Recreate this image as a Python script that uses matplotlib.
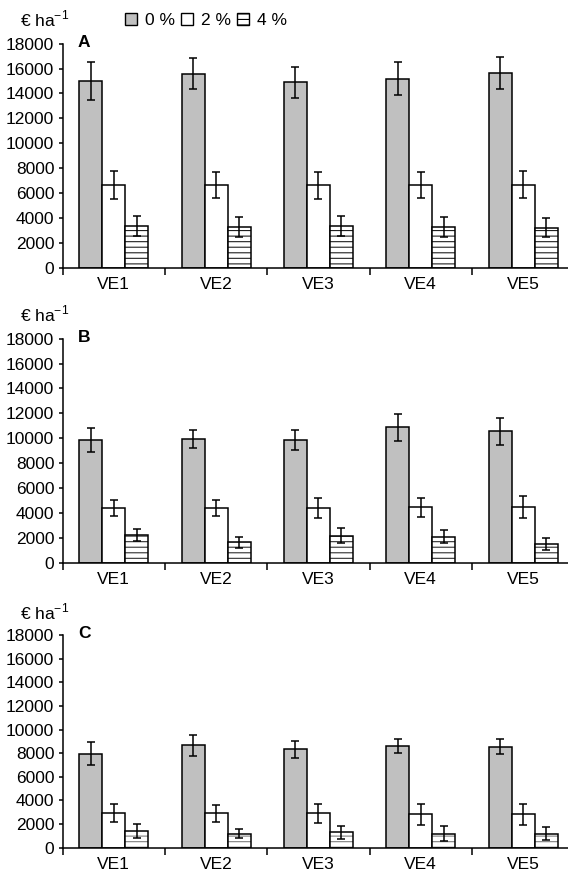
"""
Revenue per hectare for five varieties (VE1-VE5) at three levels (0 %, 2 %, 4 %),
three stacked panels A, B, C.
"""

import matplotlib.pyplot as plt
from matplotlib.patches import Patch

plt.rcParams["font.family"] = ["Liberation Sans", "DejaVu Sans"]
plt.rcParams["mathtext.fontset"] = "custom"
plt.rcParams["mathtext.rm"] = "Liberation Sans"
plt.rcParams["hatch.linewidth"] = 0.8

varieties = ["VE1", "VE2", "VE3", "VE4", "VE5"]
levels = ["0 %", "2 %", "4 %"]
panel_names = ["A", "B", "C"]

# panel A
a_0 = [15000, 15600, 14900, 15200, 15650]
a_0_err = [1500, 1220, 1250, 1300, 1300]
a_2 = [6650, 6650, 6620, 6680, 6680]
a_2_err = [1100, 1050, 1060, 1050, 1070]
a_4 = [3350, 3260, 3330, 3280, 3230]
a_4_err = [810, 810, 800, 790, 790]

# panel B
b_0 = [9850, 9900, 9850, 10880, 10540]
b_0_err = [940, 720, 800, 1070, 1100]
b_2 = [4400, 4400, 4400, 4450, 4450]
b_2_err = [650, 650, 800, 780, 880]
b_4 = [2200, 1620, 2180, 2070, 1510]
b_4_err = [470, 420, 620, 520, 500]

# panel C
c_0 = [7970, 8680, 8330, 8600, 8550]
c_0_err = [1000, 880, 700, 580, 650]
c_2 = [2950, 2900, 2930, 2820, 2820]
c_2_err = [770, 750, 800, 900, 860]
c_4 = [1420, 1200, 1290, 1200, 1180]
c_4_err = [600, 420, 520, 600, 570]

panels = [
    (a_0, a_0_err, a_2, a_2_err, a_4, a_4_err),
    (b_0, b_0_err, b_2, b_2_err, b_4, b_4_err),
    (c_0, c_0_err, c_2, c_2_err, c_4, c_4_err),
]

fig = plt.figure(figsize=(5.68, 8.76), dpi=100)

# axes boxes in figure fraction (the x axis runs a little past the right edge)
boxes = [
    [0.1104, 0.6944, 0.9005, 0.2557],
    [0.1104, 0.3577, 0.9005, 0.2557],
    [0.1104, 0.0323, 0.9005, 0.2428],
]
hatch_colors = ["#202020", "#303030", "#808080"]

fills = ["#c0c0c0", "white", "white"]
hatches = [None, None, "---"]
w = 0.225
offsets = [-w, 0, w]
x = list(range(len(varieties)))

for box, name, data, hc in zip(boxes, panel_names, panels, hatch_colors):
    ax = fig.add_axes(box)
    for k in range(3):
        vals = data[2 * k]
        errs = data[2 * k + 1]
        xs = [i + offsets[k] for i in x]
        if hatches[k]:
            # hatch drawn in its own colour, then the black outline on top
            ax.bar(xs, vals, width=w, color=fills[k], edgecolor=hc,
                   linewidth=0, hatch=hatches[k], zorder=2)
            ax.bar(xs, vals, width=w, fill=False, edgecolor="black",
                   linewidth=1.1, zorder=2)
        else:
            ax.bar(xs, vals, width=w, color=fills[k], edgecolor="black",
                   linewidth=1.1, zorder=2)
        ax.errorbar(xs, vals, yerr=errs, fmt="none", ecolor="black",
                    elinewidth=1.1, capsize=3, capthick=1.1, zorder=3)

    ax.set_xlim(-0.5, 4.5)
    ax.set_ylim(0, 18000)
    ax.set_yticks(range(0, 18001, 2000))
    ax.set_xticks([i - 0.5 for i in range(6)])
    ax.set_xticklabels([])
    ax.set_xticks(x, minor=True)
    ax.set_xticklabels(varieties, minor=True)
    ax.tick_params(axis="x", which="major", direction="out", length=5, width=1.1)
    ax.tick_params(axis="x", which="minor", length=0, pad=6.5, labelsize=12.5)
    ax.tick_params(axis="y", direction="out", length=3, width=1.1, pad=3, labelsize=12.5)

    for s in ["top", "right"]:
        ax.spines[s].set_visible(False)
    for s in ["left", "bottom"]:
        ax.spines[s].set_linewidth(1.1)

    ax.text(0.03, 1.005, name, transform=ax.transAxes, fontsize=12.5,
            fontweight="bold", ha="left", va="center")
    ax.text(-0.084, 1.11, r"€ ha$^{\mathregular{-1}}$", transform=ax.transAxes,
            fontsize=12.5, ha="left", va="center")

handles = [Patch(facecolor=fills[k], edgecolor="black", linewidth=1.0, hatch=hatches[k])
           for k in range(3)]
fig.legend(handles, levels, loc="center", bbox_to_anchor=(0.362, 0.977), ncol=3,
           frameon=False, fontsize=12.5, handlelength=0.7, handleheight=0.7,
           handletextpad=0.45, columnspacing=0.35, borderpad=0)

plt.savefig("out.png", dpi=100)
